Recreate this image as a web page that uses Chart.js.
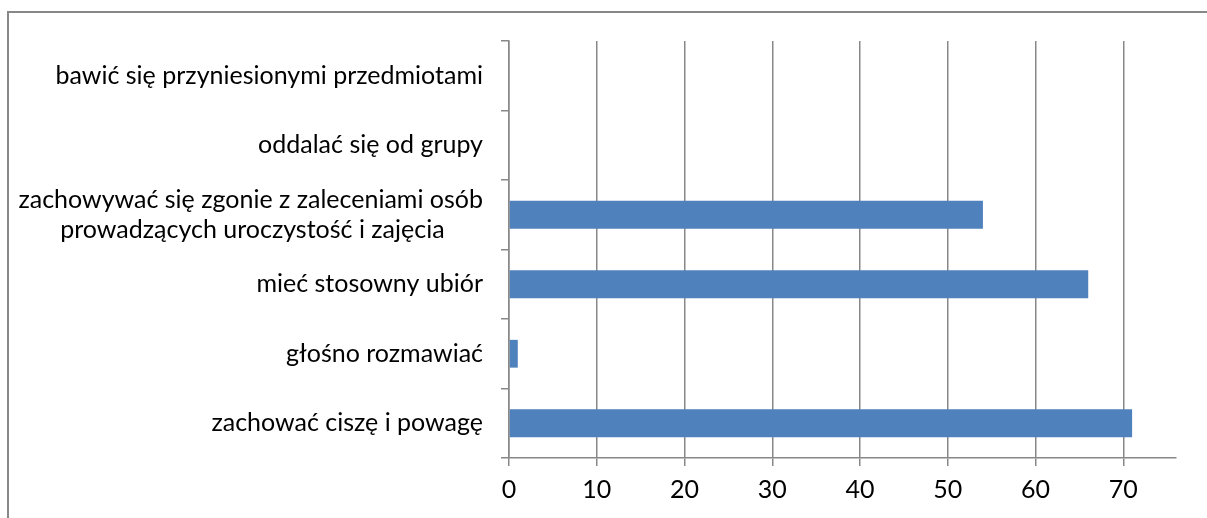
<!DOCTYPE html>
<html lang="pl">
<head>
    <meta charset="UTF-8">
    <title>Zachowanie podczas uroczystości</title>
    <script src="https://cdn.jsdelivr.net/npm/chart.js"></script>
    <style>
        html, body {
            margin: 0;
            padding: 0;
            background: #ffffff;
            overflow: hidden;
        }
        /* outer frame of the chart, cut off on the right and bottom */
        #frame {
            position: absolute;
            left: 7px;
            top: 11px;
            width: 1400px;
            height: 700px;
            border-left: 2px solid #888888;
            border-top: 2px solid #888888;
        }
        #chartBox {
            position: absolute;
            left: 0;
            top: 0;
            width: 1207px;
            height: 518px;
        }
    </style>
</head>
<body>
    <div id="frame"></div>
    <div id="chartBox">
        <canvas id="behaviourChart" width="1207" height="518"></canvas>
    </div>

    <script>
        // categories, top to bottom as in the picture
        const categories = [
            'bawić się przyniesionymi przedmiotami',
            'oddalać się od grupy',
            ['zachowywać się zgonie z zaleceniami osób', 'prowadzących uroczystość i zajęcia      '],
            'mieć stosowny ubiór',
            'głośno rozmawiać',
            'zachować ciszę i powagę'
        ];
        const answers = [0, 0, 54, 66, 1, 71];
        const xTicks = [0, 10, 20, 30, 40, 50, 60, 70];
        const xMax = 76;

        const gridGray = '#888888';
        const labelFont = { family: 'Lato', size: 25, lineHeight: 1.2 };

        const ctx = document.getElementById('behaviourChart').getContext('2d');
        const behaviourChart = new Chart(ctx, {
            type: 'bar',
            data: {
                labels: categories,
                datasets: [{
                    label: 'odpowiedzi',
                    data: answers,
                    backgroundColor: '#4f81bd',
                    borderWidth: 0,
                    categoryPercentage: 1.0,
                    barPercentage: 0.4
                }]
            },
            options: {
                indexAxis: 'y',
                responsive: false,
                maintainAspectRatio: false,
                animation: false,
                layout: {
                    padding: { top: 41, right: 31, left: 0, bottom: 0 }
                },
                plugins: {
                    legend: { display: false },
                    tooltip: { enabled: false }
                },
                scales: {
                    x: {
                        min: 0,
                        max: xMax,
                        afterBuildTicks: axis => {
                            axis.ticks = xTicks.map(v => ({ value: v }));
                        },
                        afterFit: axis => { axis.height = 60; },
                        grid: {
                            color: gridGray,
                            lineWidth: 1.5,
                            tickLength: 8
                        },
                        border: { color: gridGray, width: 1.5 },
                        ticks: {
                            color: '#000000',
                            font: labelFont,
                            padding: 9,
                            maxRotation: 0
                        }
                    },
                    y: {
                        afterFit: axis => { axis.width = 509; },
                        grid: {
                            drawOnChartArea: false,
                            color: gridGray,
                            lineWidth: 1.5,
                            tickLength: 8
                        },
                        border: { color: gridGray, width: 1.5 },
                        ticks: {
                            color: '#000000',
                            font: labelFont,
                            padding: 18,
                            autoSkip: false
                        }
                    }
                }
            }
        });
    </script>
</body>
</html>
